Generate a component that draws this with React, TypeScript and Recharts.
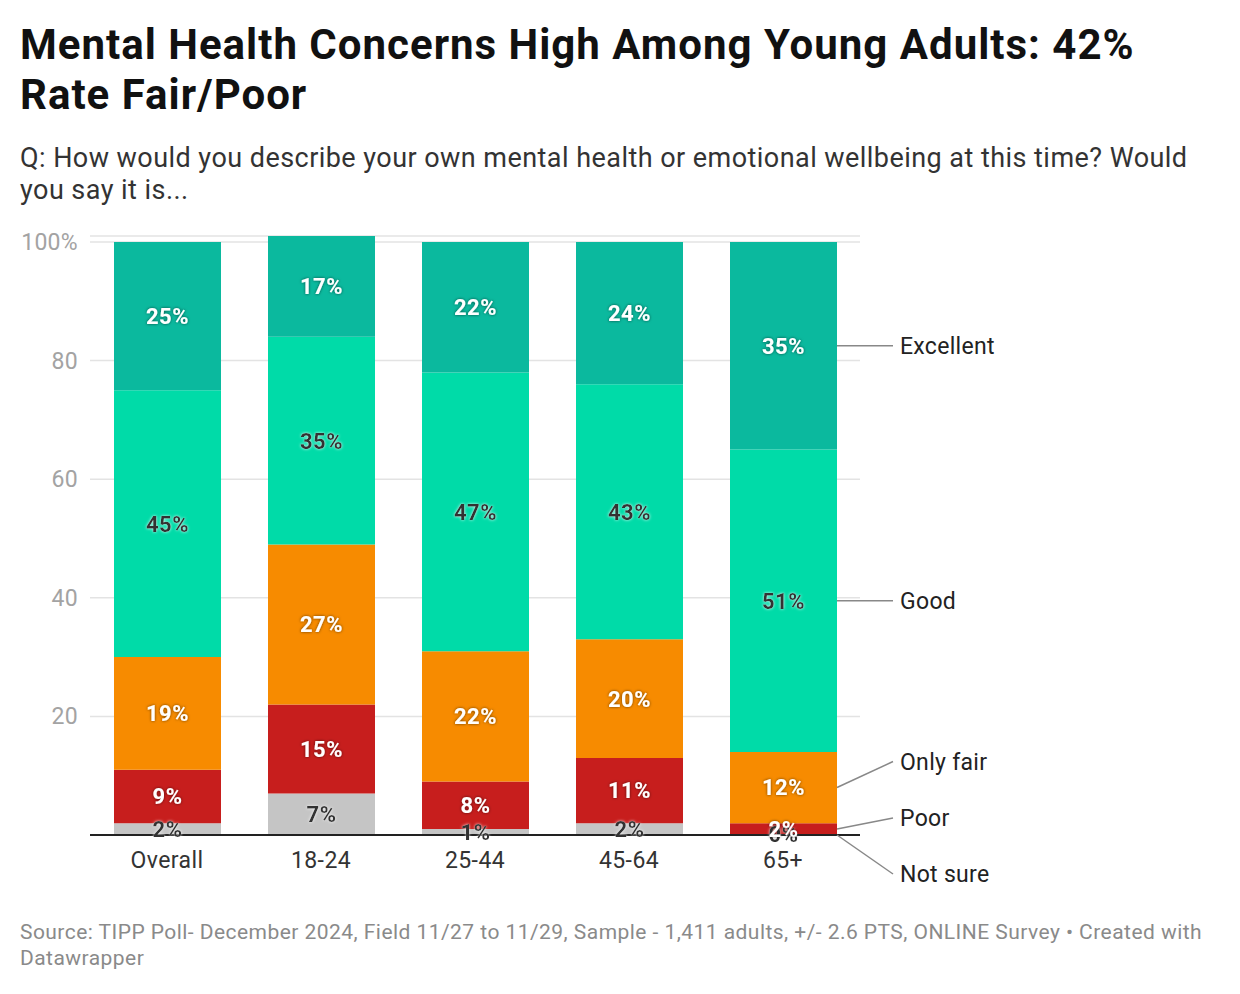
import React from 'react';
import { BarChart, Bar, XAxis, YAxis, CartesianGrid, ReferenceLine, LabelList } from 'recharts';

const categories = ['Overall', '18-24', '25-44', '45-64', '65+'];
const notSure = [2, 7, 1, 2, 0];
const poor = [9, 15, 8, 11, 2];
const onlyFair = [19, 27, 22, 20, 12];
const good = [45, 35, 47, 43, 51];
const excellent = [25, 17, 22, 24, 35];

const yTicks = [0, 20, 40, 60, 80, 100];
const yTickLabels = ['', '20', '40', '60', '80', '100%'];

const FONT = 'Roboto, "Noto Sans", sans-serif';

const series = [
  { key: 'notSure', name: 'Not sure', color: '#c5c5c5', text: '#333333', halo: 'haloLight', nudge: 39 },
  { key: 'poor', name: 'Poor', color: '#c71e1d', text: '#ffffff', halo: 'haloDark', nudge: -11 },
  { key: 'onlyFair', name: 'Only fair', color: '#f78b00', text: '#ffffff', halo: 'haloDark', nudge: -26 },
  { key: 'good', name: 'Good', color: '#00dba8', text: '#333333', halo: 'haloLight', nudge: 0 },
  { key: 'excellent', name: 'Excellent', color: '#0bb99e', text: '#ffffff', halo: 'haloDark', nudge: 0 },
];

const data = categories.map((name, i) => ({
  name,
  notSure: notSure[i],
  poor: poor[i],
  onlyFair: onlyFair[i],
  good: good[i],
  excellent: excellent[i],
}));

const YTick = (props: any) => {
  const { x, y, payload } = props;
  const idx = yTicks.indexOf(payload.value);
  return (
    <text x={x - 12} y={y} dy="0.35em" textAnchor="end" fill="#a3a3a3" fontSize={23} letterSpacing={0.3} fontFamily={FONT}>
      {yTickLabels[idx]}
    </text>
  );
};

const XTick = (props: any) => {
  const { x, y, payload } = props;
  return (
    <text x={x} y={y + 33} textAnchor="middle" fill="#333" fontSize={23} letterSpacing={0.4} fontFamily={FONT}>
      {payload.value}
    </text>
  );
};

const valueLabel = (s: typeof series[number]) => (props: any) => {
  const { x, y, width, height, value } = props;
  if (value === undefined || value === null) return null;
  return (
    <text
      x={x + width / 2}
      y={y + height / 2}
      dy="0.36em"
      textAnchor="middle"
      fill={s.text}
      fontSize={22}
      fontWeight={700}
      letterSpacing={0.5}
      fontFamily={FONT}
      filter={`url(#${s.halo})`}
    >
      {`${value}%`}
    </text>
  );
};

const seriesLabel = (s: typeof series[number]) => (props: any) => {
  const { x, y, width, height, index, value } = props;
  if (index !== categories.length - 1) return null;
  const x0 = x + width;
  const y0 = value === 0 ? y + height : y + height / 2;
  const y1 = y0 + s.nudge;
  return (
    <g>
      <line x1={x0} y1={y0} x2={x0 + 56} y2={y1} stroke="#888" strokeWidth={1.5} />
      <text x={x0 + 63} y={y1} dy="0.35em" fill="#222" fontSize={23} letterSpacing={0.3} fontFamily={FONT}>
        {s.name}
      </text>
    </g>
  );
};

export default function App() {
  return (
    <div style={{ position: 'absolute', left: 0, top: 0, width: 1240, height: 994, background: '#fff', fontFamily: FONT }}>
      <svg width={0} height={0} style={{ position: 'absolute' }}>
        <defs>
          <filter id="haloDark" x="-20%" y="-40%" width="140%" height="180%">
            <feGaussianBlur in="SourceAlpha" stdDeviation="1.8" result="blur" />
            <feFlood floodColor="#000" floodOpacity="0.6" />
            <feComposite in2="blur" operator="in" result="shadow" />
            <feMerge>
              <feMergeNode in="shadow" />
              <feMergeNode in="SourceGraphic" />
            </feMerge>
          </filter>
          <filter id="haloLight" x="-20%" y="-40%" width="140%" height="180%">
            <feGaussianBlur in="SourceAlpha" stdDeviation="1.8" result="blur" />
            <feFlood floodColor="#fff" floodOpacity="0.85" />
            <feComposite in2="blur" operator="in" result="shadow" />
            <feMerge>
              <feMergeNode in="shadow" />
              <feMergeNode in="SourceGraphic" />
            </feMerge>
          </filter>
        </defs>
      </svg>
      <div style={{ position: 'absolute', left: 20, top: 20, width: 1180, fontSize: 42, letterSpacing: 1, fontWeight: 700, lineHeight: '50px', color: '#111' }}>
        Mental Health Concerns High Among Young Adults: 42% Rate Fair/Poor
      </div>
      <div style={{ position: 'absolute', left: 20, top: 142, width: 1200, fontSize: 27, letterSpacing: 0.45, lineHeight: '32px', color: '#333' }}>
        Q: How would you describe your own mental health or emotional wellbeing at this time? Would you say it is...
      </div>
      <div style={{ position: 'absolute', left: 0, top: 0 }}>
        <BarChart width={1240} height={994} data={data} margin={{ top: 236, right: 380, bottom: 119, left: 20 }}>
          <CartesianGrid vertical={false} stroke="#e3e3e3" strokeWidth={1.5} />
          <XAxis dataKey="name" height={40} axisLine={false} tickLine={false} tickSize={0} tickMargin={0} tick={<XTick />} interval={0} />
          <YAxis width={70} domain={[0, 101]} ticks={yTicks} axisLine={false} tickLine={false} tickSize={0} tickMargin={0} tick={<YTick />} />
          {series.map((s) => (
            <Bar
              key={s.key}
              dataKey={s.key}
              stackId="a"
              fill={s.color}
              barSize={107}
              minPointSize={s.key === 'notSure' ? 1 : 0}
              isAnimationActive={false}
            >
              <LabelList dataKey={s.key} content={valueLabel(s)} />
              <LabelList dataKey={s.key} content={seriesLabel(s)} />
            </Bar>
          ))}
          <ReferenceLine y={0} stroke="#222" strokeWidth={2} />
        </BarChart>
      </div>
      <div style={{ position: 'absolute', left: 20, top: 919, width: 1200, fontSize: 21, letterSpacing: 0.45, lineHeight: '26px', color: '#8a8a8a' }}>
        Source: TIPP Poll- December 2024, Field 11/27 to 11/29, Sample - 1,411 adults, +/- 2.6 PTS, ONLINE Survey • Created with Datawrapper
      </div>
    </div>
  );
}
